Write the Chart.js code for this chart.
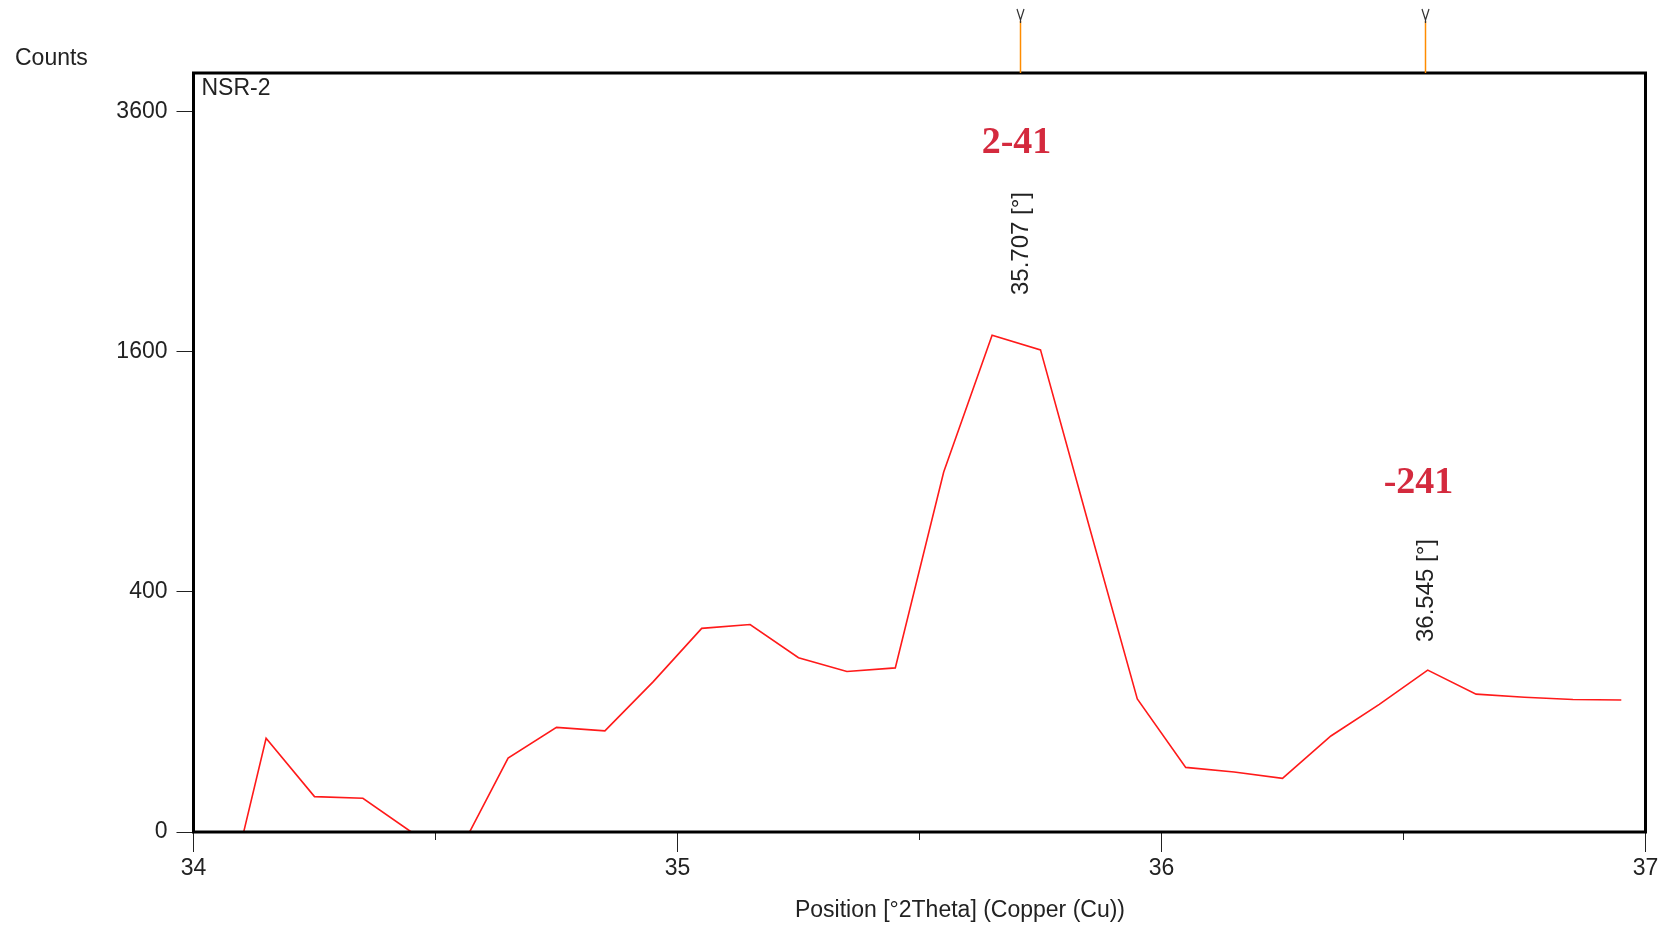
<!DOCTYPE html>
<html>
<head>
<meta charset="utf-8">
<script src="https://cdn.jsdelivr.net/npm/chart.js@4.4.1/dist/chart.umd.min.js"></script>
<style>
  html, body { margin: 0; padding: 0; background: #fff; }
  #wrap { width: 1665px; height: 927px; position: relative; }
</style>
</head>
<body>
<div id="wrap"><canvas id="xrd"></canvas></div>
<script>
// scan data (2theta step 0.1)
const positions = [34.05, 34.15, 34.25, 34.35, 34.45, 34.55, 34.65, 34.75, 34.85, 34.95,
                   35.05, 35.15, 35.25, 35.35, 35.45, 35.55, 35.65, 35.75, 35.85, 35.95,
                   36.05, 36.15, 36.25, 36.35, 36.45, 36.55, 36.65, 36.75, 36.85, 36.95];
const counts = [-82, 61, 8.7, 7.9, 0, -2.5, 38, 76, 71, 157,
                288, 299, 211, 179, 187, 900, 1713, 1614, 653, 123,
                29, 25, 20, 64, 113, 182, 132, 126, 122, 121];

const yTickValues = [0, 400, 1600, 3600];
const xTickValues = [34, 34.5, 35, 35.5, 36, 36.5, 37];

const peakPositions = [35.707, 36.545];
const peakLabels = ['35.707 [°]', '36.545 [°]'];
const peakNames = ['2-41', '-241'];

const sgnSqrt = v => Math.sign(v) * Math.sqrt(Math.abs(v));

// square-root intensity axis, like the diffractometer software
class SqrtScale extends Chart.LinearScale {
    static id = 'sqrt';
    static defaults = {};
    buildTicks() {
        return yTickValues.map(v => ({ value: v }));
    }
    configure() {
        super.configure();
        this._startValue = sgnSqrt(this.min);
        this._valueRange = sgnSqrt(this.max) - sgnSqrt(this.min);
    }
    getPixelForValue(value) {
        return this.getPixelForDecimal((sgnSqrt(value) - this._startValue) / this._valueRange);
    }
    getValueForPixel(pixel) {
        const s = this._startValue + this.getDecimalForPixel(pixel) * this._valueRange;
        return Math.sign(s) * s * s;
    }
}
Chart.register(SqrtScale);

Chart.defaults.font.family = '"Liberation Sans", Arial, sans-serif';
Chart.defaults.font.size = 23;
Chart.defaults.color = '#222';

const decorations = {
    id: 'decorations',
    afterDraw(chart) {
        const { ctx, chartArea: a, scales: { x } } = chart;
        const labelBottom = [295, 642];
        const nameBase = [153, 493];
        const nameShift = [-4, -7];

        ctx.save();
        // frame
        ctx.strokeStyle = '#000';
        ctx.lineWidth = 3;
        ctx.strokeRect(a.left, a.top, a.right - a.left, a.bottom - a.top);

        ctx.fillStyle = '#222';
        ctx.font = '23px "Liberation Sans"';
        ctx.textBaseline = 'middle';
        ctx.textAlign = 'left';
        ctx.fillText('Counts', 15, 59);
        ctx.fillText('NSR-2', a.left + 8, 89);
        ctx.textAlign = 'center';
        ctx.fillText('Position [°2Theta] (Copper (Cu))', 960, 911);

        peakPositions.forEach((p, i) => {
            const px = Math.round(x.getPixelForValue(p)) + 0.5;

            // peak marker above the frame
            ctx.strokeStyle = '#ff8c00';
            ctx.lineWidth = 1.5;
            ctx.beginPath();
            ctx.moveTo(px, 21);
            ctx.lineTo(px, a.top);
            ctx.stroke();
            ctx.strokeStyle = '#333';
            ctx.lineWidth = 1.2;
            ctx.beginPath();
            ctx.moveTo(px - 3.5, 9);
            ctx.lineTo(px, 20);
            ctx.lineTo(px + 3.5, 9);
            ctx.moveTo(px, 20);
            ctx.lineTo(px, 23);
            ctx.stroke();

            // position label, rotated
            ctx.save();
            ctx.translate(px + 1, labelBottom[i]);
            ctx.rotate(-Math.PI / 2);
            ctx.fillStyle = '#222';
            ctx.font = '24px "Liberation Sans"';
            ctx.textAlign = 'left';
            ctx.textBaseline = 'middle';
            ctx.fillText(peakLabels[i], 0, 0);
            ctx.restore();

            // hkl name
            ctx.fillStyle = '#d42a3e';
            ctx.font = 'bold 38px "Liberation Serif"';
            ctx.textAlign = 'center';
            ctx.textBaseline = 'alphabetic';
            ctx.fillText(peakNames[i], px + nameShift[i], nameBase[i]);
        });
        ctx.restore();
    }
};

new Chart(document.getElementById('xrd'), {
    type: 'line',
    data: {
        datasets: [{
            label: 'NSR-2',
            data: positions.map((p, i) => ({ x: p, y: counts[i] })),
            borderColor: '#ff1a1a',
            borderWidth: 1.6,
            pointRadius: 0,
            tension: 0,
            fill: false
        }]
    },
    options: {
        responsive: true,
        maintainAspectRatio: false,
        animation: false,
        layout: { padding: { top: 73, right: 19.5, left: 0, bottom: 0 } },
        plugins: {
            legend: { display: false },
            tooltip: { enabled: false }
        },
        scales: {
            x: {
                type: 'linear',
                min: 34,
                max: 37,
                afterBuildTicks: s => { s.ticks = xTickValues.map(v => ({ value: v })); },
                afterFit: s => { s.height = 95; },
                border: { display: false },
                grid: {
                    drawOnChartArea: false,
                    drawTicks: true,
                    tickLength: 20,
                    tickColor: '#222',
                    tickWidth: 1,
                    tickBorderDash: c => Number.isInteger(c.tick.value) ? [] : [8, 40]
                },
                ticks: {
                    autoSkip: false,
                    maxRotation: 0,
                    padding: 3,
                    callback: v => Number.isInteger(v) ? String(v) : ''
                }
            },
            y: {
                type: 'sqrt',
                min: 0,
                max: 4000,
                afterFit: s => { s.width = 193.5; },
                border: { display: false },
                grid: {
                    drawOnChartArea: false,
                    drawTicks: true,
                    tickLength: 17,
                    tickColor: '#222',
                    tickWidth: 1
                },
                ticks: {
                    padding: 9,
                    callback: v => String(v)
                }
            }
        }
    },
    plugins: [decorations]
});
</script>
</body>
</html>
